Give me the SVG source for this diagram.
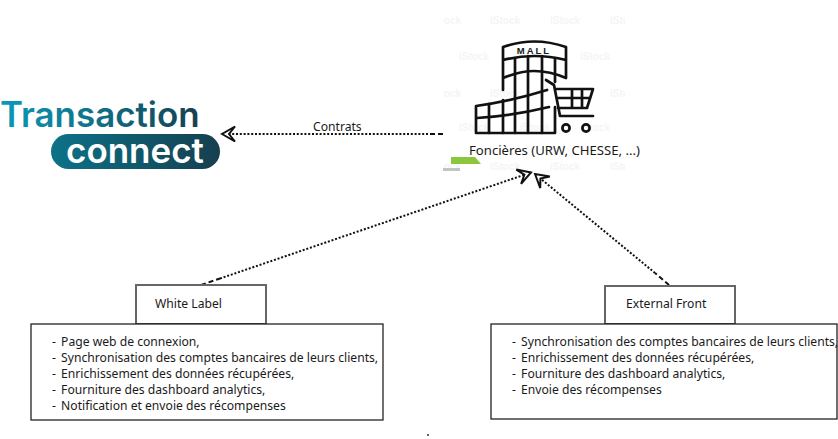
<svg xmlns="http://www.w3.org/2000/svg" width="838" height="439" viewBox="0 0 838 439">
<style>
text{font-family:"Noto Sans","DejaVu Sans",sans-serif;font-size:12.150px;fill:#1a1a1a}
.wm{font-family:"Liberation Sans",Arial,sans-serif;font-size:10px;font-weight:700;fill:#f5f5f5}
.logo{font-family:Inter,"Noto Sans",sans-serif;font-weight:600}
.ic{fill:none;stroke:#111;stroke-width:2.7;stroke-linejoin:round;stroke-linecap:round}
.dot{fill:none;stroke:#111;stroke-width:2;stroke-dasharray:2 1.8}
.dash{fill:none;stroke:#111;stroke-width:2;stroke-dasharray:5 3}
.lab{fill:#fff;stroke:#666;stroke-width:2}
.lst{fill:#fff;stroke:#111;stroke-width:1.2}
</style>
<defs>
<linearGradient id="g1" gradientUnits="userSpaceOnUse" x1="0" y1="0" x2="200" y2="0"><stop offset="0" stop-color="#0b9ab8"/><stop offset=".5" stop-color="#0f6f86"/><stop offset="1" stop-color="#163f4f"/></linearGradient>
<linearGradient id="g2" gradientUnits="userSpaceOnUse" x1="51" y1="0" x2="220" y2="0"><stop offset="0" stop-color="#0c7288"/><stop offset="1" stop-color="#163f4f"/></linearGradient>
<clipPath id="wc"><rect x="444" y="0" width="181" height="180"/></clipPath>
<marker id="ah" markerUnits="userSpaceOnUse" viewBox="-16 -10 18 20" refX="0" refY="0" markerWidth="18" markerHeight="20" orient="auto"><path d="M0 0L-13 -7.500L-7 0L-13 7.500Z" fill="#fff" stroke="#111" stroke-width="2"/></marker>
</defs>
<rect width="838" height="439" fill="#fff"/>
<g id="watermarks" clip-path="url(#wc)">
<text class="wm" x="431" y="24">iStock</text><text class="wm" x="490" y="24">iStock</text><text class="wm" x="550" y="24">iStock</text><text class="wm" x="610" y="24">iStock</text>
<text class="wm" x="459" y="60">iStock</text><text class="wm" x="580" y="60">iStock</text>
<text class="wm" x="431" y="97">iStock</text><text class="wm" x="490" y="97">iStock</text><text class="wm" x="610" y="97">iStock</text>
<text class="wm" x="459" y="131">iStock</text><text class="wm" x="520" y="131">iStock</text><text class="wm" x="580" y="131">iStock</text>
<text class="wm" x="431" y="170">iStock</text><text class="wm" x="490" y="170">iStock</text><text class="wm" x="550" y="170">iStock</text><text class="wm" x="610" y="170">iStock</text>
</g>
<g id="transaction-connect">
<text class="logo" x="0" y="127" style="font-size:34.900px;fill:url(#g1)">Transaction</text>
<rect x="51" y="134" width="169" height="35" rx="17.5" fill="url(#g2)"/>
<text class="logo" x="66" y="163" style="font-size:35px;fill:#fff">connect</text>
</g>
<g id="foncieres">
<g class="ic">
<path d="M503 90V47Q534 36 566 47V60M503 60Q534 52 566 60V78M503 78Q520 71 534 71Q550 71 566 78"/>
<path d="M515 58V133M528 56V133M542 56V133M555 58V82"/>
<path d="M476 133V106Q512 101 547 90M477 118Q512 116 549 107M476 133H555V107"/>
<path d="M489 104V133M503 100V133"/>
<path d="M546 80L554 85L560 116H593M555 89H593L587 108H558M557 98H590M572 89V108M582 89V108"/>
<circle cx="566" cy="128" r="3.6"/><circle cx="586" cy="128" r="3.6"/>
</g>
<text x="534" y="54" text-anchor="middle" style="font-family:'Liberation Sans',Arial,sans-serif;font-weight:700;font-size:9.500px;letter-spacing:2px">MALL</text>
<text x="469" y="155" style="font-size:13.150px">Foncières (URW, CHESSE, ...)</text>
<path d="M451 157H475L481 164H451Z" fill="#8cc63f"/>
<rect x="443" y="168" width="17" height="3" fill="#c4c4c4"/>
</g>
<g id="connectors">
<path class="dot" d="M428 134H222" marker-end="url(#ah)"/>
<path class="dash" d="M443 134H428"/>
<path class="dot" d="M220 278.500L531 172.500" marker-end="url(#ah)"/>
<path class="dash" d="M201 285L220 278.500"/>
<path class="dot" d="M655 273L535 174" marker-end="url(#ah)"/>
<path class="dash" d="M669 285L655 273"/>
<text x="313" y="131">Contrats</text>
</g>
<g id="white-label">
<rect class="lab" x="136" y="285" width="130" height="39"/>
<text x="155" y="308">White Label</text>
</g>
<g id="white-label-details">
<rect class="lst" x="31" y="324" width="352" height="96"/>
<text x="52" y="345.500">- <tspan dx="2">Page web de connexion,</tspan></text>
<text x="52" y="361.500">- <tspan dx="2">Synchronisation des comptes bancaires de leurs clients,</tspan></text>
<text x="52" y="377.500">- <tspan dx="2">Enrichissement des données récupérées,</tspan></text>
<text x="52" y="393.500">- <tspan dx="2">Fourniture des dashboard analytics,</tspan></text>
<text x="52" y="409.500">- <tspan dx="2">Notification et envoie des récompenses</tspan></text>
</g>
<g id="external-front">
<rect class="lab" x="605" y="286" width="130" height="38"/>
<text x="626" y="307.500">External Front</text>
</g>
<g id="external-front-details">
<rect class="lst" x="491" y="324" width="346" height="95"/>
<text x="512" y="345.500">- <tspan dx="2">Synchronisation des comptes bancaires de leurs clients,</tspan></text>
<text x="512" y="361.500">- <tspan dx="2">Enrichissement des données récupérées,</tspan></text>
<text x="512" y="377.500">- <tspan dx="2">Fourniture des dashboard analytics,</tspan></text>
<text x="512" y="393.500">- <tspan dx="2">Envoie des récompenses</tspan></text>
</g>
<circle id="stray-dot" cx="428" cy="435" r="1" fill="#333"/>
</svg>
